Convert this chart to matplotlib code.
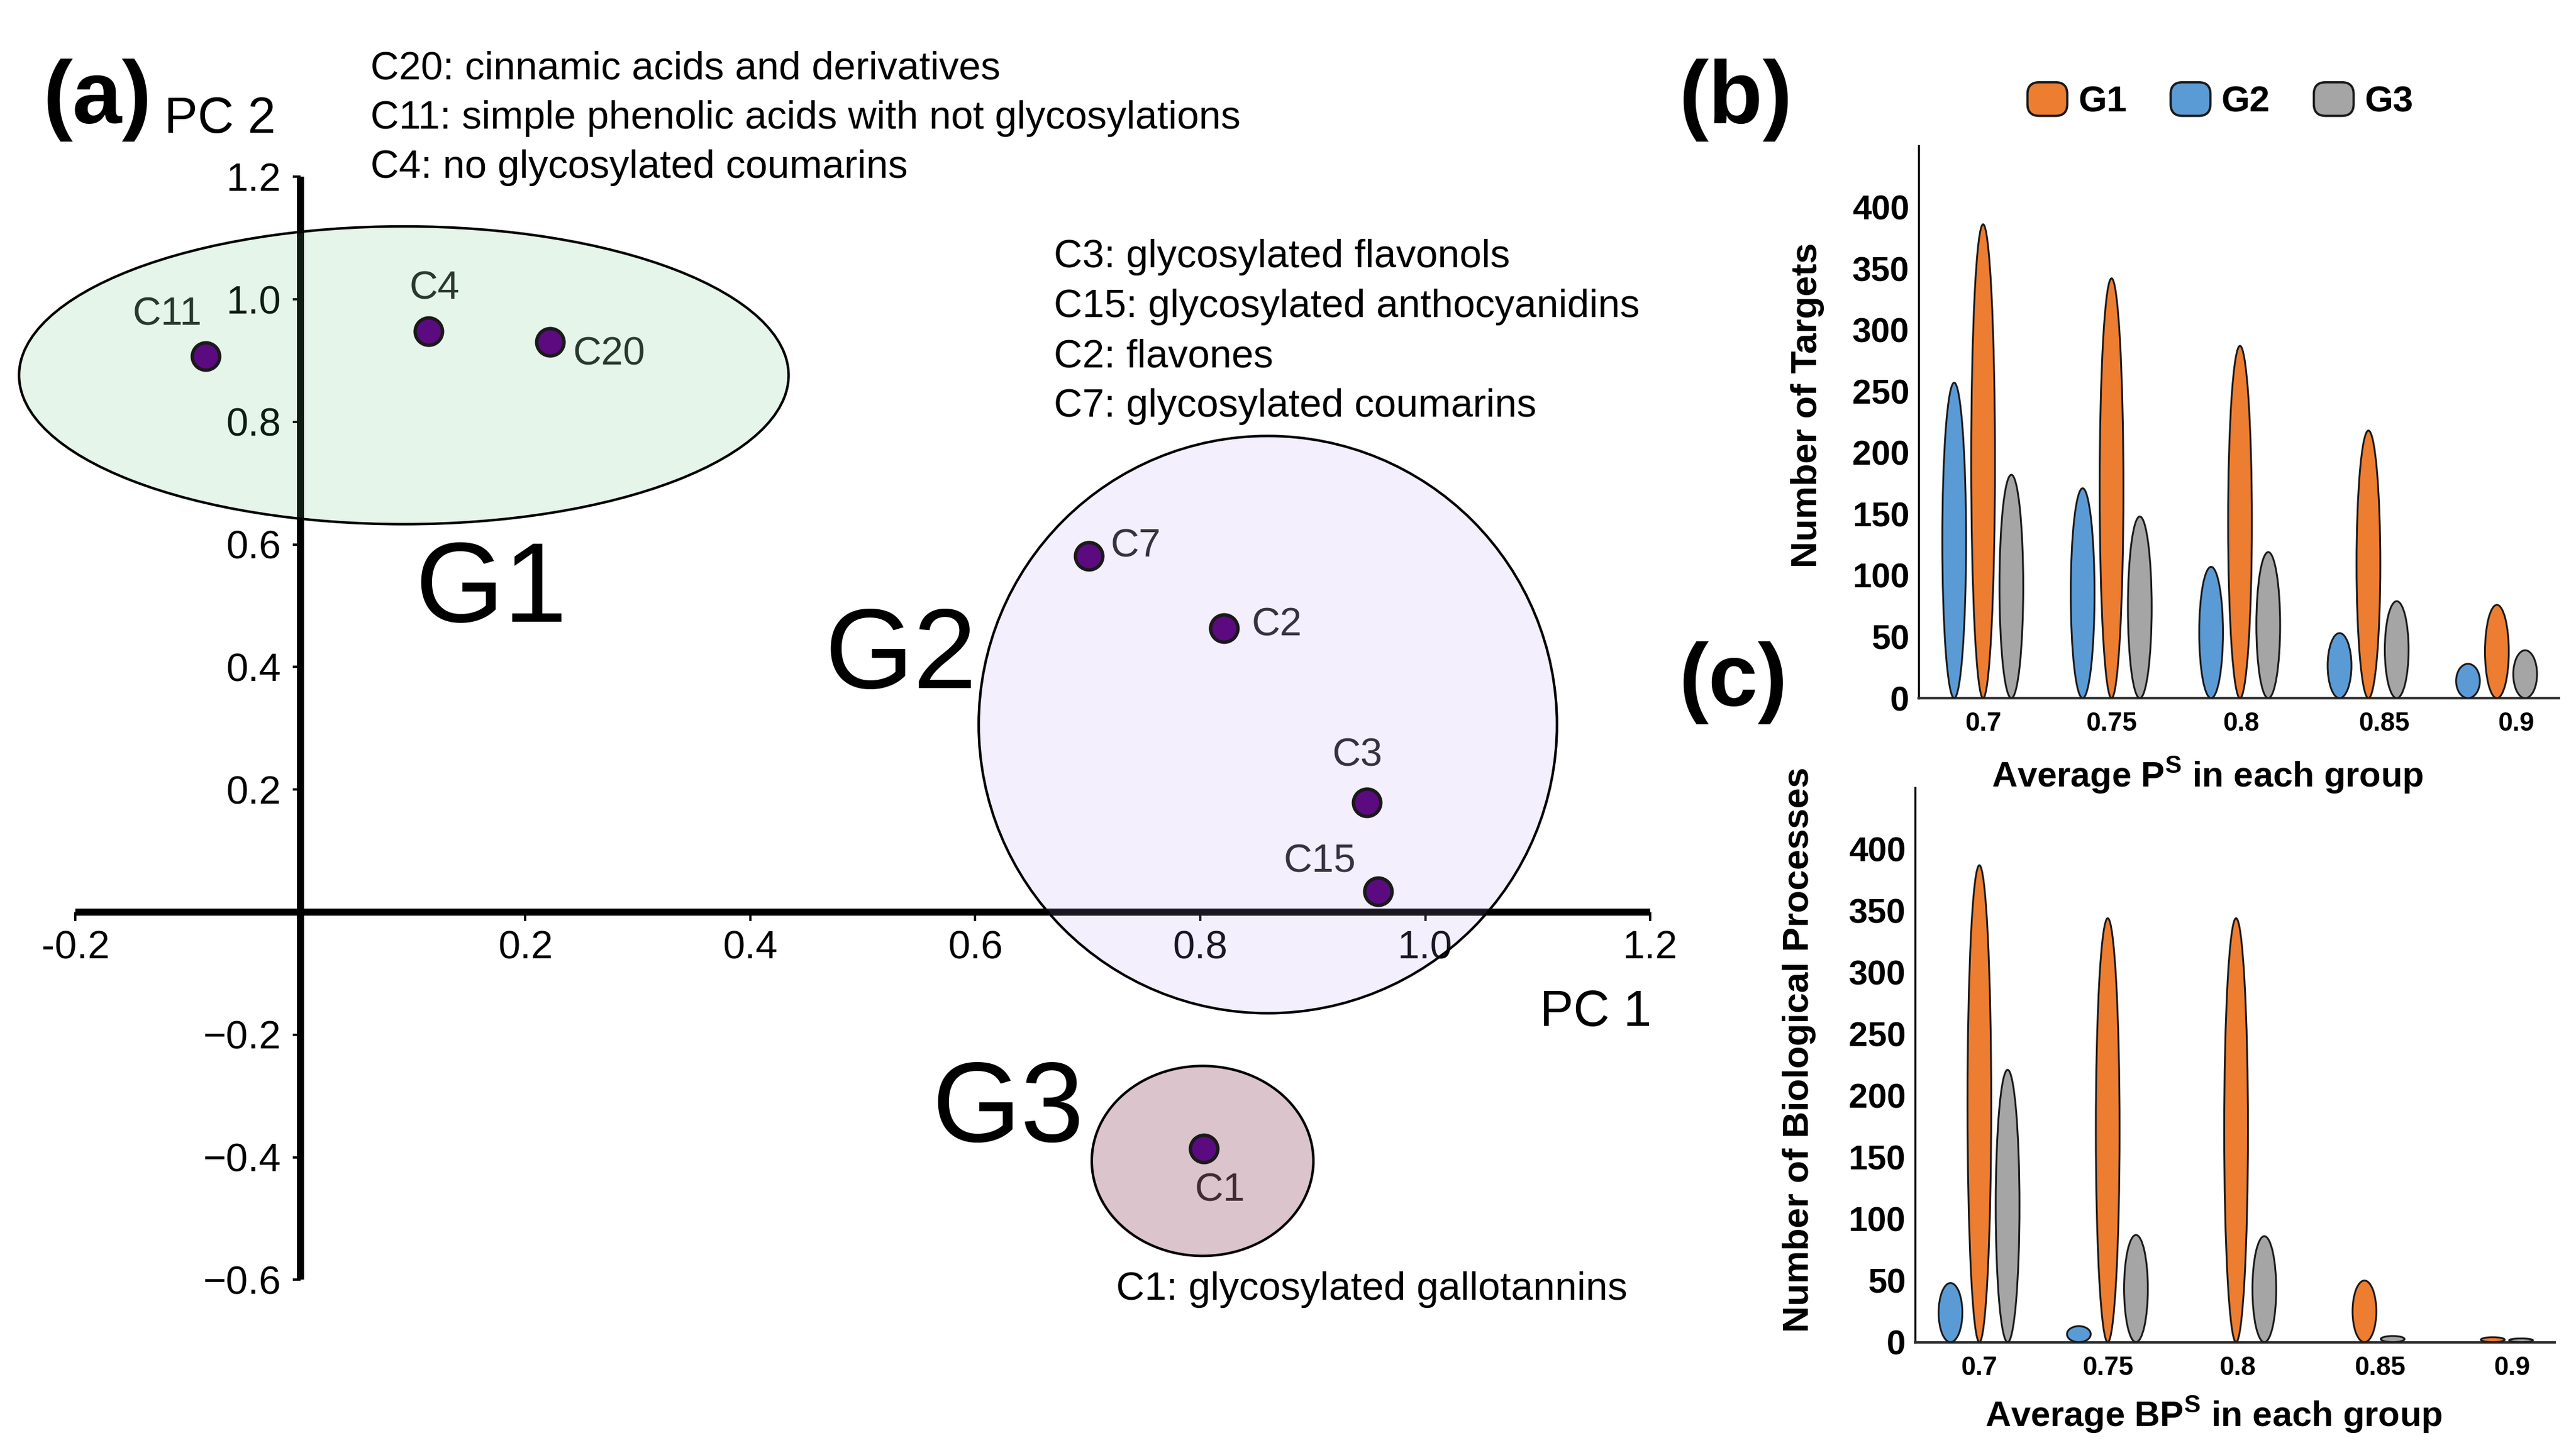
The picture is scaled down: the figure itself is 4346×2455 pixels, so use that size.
import matplotlib
matplotlib.use("Agg")
import matplotlib.pyplot as plt
from matplotlib.patches import Ellipse, FancyBboxPatch, Patch
from matplotlib.legend_handler import HandlerPatch

plt.rcParams['font.family'] = ['Liberation Sans', 'DejaVu Sans']
plt.rcParams['mathtext.fontset'] = 'custom'
plt.rcParams['mathtext.rm'] = 'Liberation Sans'
plt.rcParams['mathtext.bf'] = 'Liberation Sans:bold'

# ---- panel (a): PCA scores ----
compounds = ['C11', 'C4', 'C20', 'C7', 'C2', 'C3', 'C15', 'C1']
pc1 = [-0.084, 0.114, 0.222, 0.701, 0.821, 0.948, 0.958, 0.803]
pc2 = [0.907, 0.948, 0.930, 0.581, 0.463, 0.179, 0.034, -0.386]

groups = ['G1', 'G2', 'G3']
group_cx = [0.092, 0.860, 0.802]
group_cy = [0.876, 0.306, -0.406]
group_w = [0.684, 0.514, 0.197]
group_h = [0.486, 0.942, 0.310]

x_ticks = [-0.2, 0.2, 0.4, 0.6, 0.8, 1.0, 1.2]
x_tick_labels = ['-0.2', '0.2', '0.4', '0.6', '0.8', '1.0', '1.2']
y_ticks = [1.2, 1.0, 0.8, 0.6, 0.4, 0.2, -0.2, -0.4, -0.6]
y_tick_labels = ['1.2', '1.0', '0.8', '0.6', '0.4', '0.2', '\u22120.2', '\u22120.4', '\u22120.6']

desc_g1 = ['C20: cinnamic acids and derivatives',
           'C11: simple phenolic acids with not glycosylations',
           'C4: no glycosylated coumarins']
desc_g2 = ['C3: glycosylated flavonols',
           'C15: glycosylated anthocyanidins',
           'C2: flavones',
           'C7: glycosylated coumarins']
desc_g3 = ['C1: glycosylated gallotannins']

# ---- panels (b) and (c) ----
thresholds = ['0.7', '0.75', '0.8', '0.85', '0.9']
targets_g1 = [386, 342, 287, 218, 76]
targets_g2 = [257, 171, 107, 53, 28]
targets_g3 = [182, 148, 119, 79, 39]
bp_g1 = [387, 344, 344, 50, 4]
bp_g2 = [48, 13, 0, 0, 0]
bp_g3 = [221, 87, 86, 5, 3]
value_ticks = [0, 50, 100, 150, 200, 250, 300, 350, 400]

W, H = 4346, 2455
DPI = 277.0


def fx(px):
    return px / W


def fy(py):
    return 1 - py / H


fig = plt.figure(figsize=(W / DPI, H / DPI), dpi=DPI)

# panel (a) axes: x=0 at 506.7 px, 1898 px per unit; y=0 at 1539 px, 1034 px per unit
ax = fig.add_axes([fx(13.2), fy(2211.1), (2879.2 - 13.2) / W, (2211.1 - 246.5) / H])
ax.set_xlim(-0.26, 1.25)
ax.set_ylim(-0.65, 1.25)
ax.patch.set_visible(False)
ax.set_axisbelow(True)
for s in ['top', 'right']:
    ax.spines[s].set_visible(False)
ax.spines['left'].set_position(('data', 0))
ax.spines['bottom'].set_position(('data', 0))
ax.spines['left'].set_bounds(-0.6, 1.2)
ax.spines['bottom'].set_bounds(-0.2, 1.2)
for s in ['left', 'bottom']:
    ax.spines[s].set_linewidth(3.1)
    ax.spines[s].set_capstyle('butt')
ax.set_xticks(x_ticks, x_tick_labels)
ax.set_yticks(y_ticks, y_tick_labels)
ax.tick_params(axis='x', direction='out', length=3.9, width=1.0, pad=4, labelsize=17.3)
ax.tick_params(axis='y', direction='out', length=3.4, width=1.0, pad=5, labelsize=17.3)

group_fill = [(0.345, 0.737, 0.424, 0.15),
              (0.686, 0.580, 0.922, 0.15),
              (0.541, 0.243, 0.333, 0.30)]
for cx, cy, w, h, fc in zip(group_cx, group_cy, group_w, group_h, group_fill):
    ax.add_patch(Ellipse((cx, cy), w, h, facecolor=fc, edgecolor='black',
                         linewidth=1.1, zorder=3, clip_on=False))

ax.plot(pc1, pc2, 'o', ms=12, mfc='#5c0a80', mec='#1a1a1a', mew=1.5,
        zorder=4, clip_on=False)

# label offsets in points (dx, dy, ha)
label_offsets = {'C11': (-17, 18, 'center'), 'C4': (2.5, 18.5, 'center'),
                 'C20': (10, -5.5, 'left'), 'C7': (9.6, 4.2, 'left'),
                 'C2': (12.2, 1.3, 'left'), 'C3': (-4.2, 20.3, 'center'),
                 'C15': (-9.6, 12.7, 'right'), 'C1': (7, -18.5, 'center')}
for name, x, y in zip(compounds, pc1, pc2):
    dx, dy, ha = label_offsets[name]
    ax.annotate(name, (x, y), xytext=(dx, dy), textcoords='offset points',
                ha=ha, va='center', fontsize=17.3, color='#222222', zorder=2)

# axis titles
fig.text(fx(277), fy(202), 'PC 2', fontsize=22, ha='left', va='center')
fig.text(fx(2786), fy(1709), 'PC 1', fontsize=22, ha='right', va='center')

# group names
for name, lx, by in zip(groups, [700, 1391, 1572], [1049, 1161, 1926]):
    fig.text(fx(lx), fy(by), name, fontsize=50, ha='left', va='baseline')

# compound class descriptions
for i, line in enumerate(desc_g1):
    fig.text(fx(625), fy(134 + 83 * i), line, fontsize=17.3, ha='left', va='baseline')
for i, line in enumerate(desc_g2):
    fig.text(fx(1778), fy(451 + 84 * i), line, fontsize=17.3, ha='left', va='baseline')
fig.text(fx(1883), fy(2193), desc_g3[0], fontsize=17.3, ha='left', va='baseline')

# panel letters
fig.text(fx(73), fy(169), '(a)', fontsize=39, fontweight='bold', ha='left', va='center')
fig.text(fx(2833), fy(169), '(b)', fontsize=39, fontweight='bold', ha='left', va='center')
fig.text(fx(2833), fy(1152), '(c)', fontsize=39, fontweight='bold', ha='left', va='center')

# ---- ellipse "bar" panels ----
colors = ['#ed7d31', '#5b9bd5', '#a5a5a5']
offsets = [0.0, -0.225, 0.22]
tick_shift = [0.0, 0.0, 0.01, 0.12, 0.15]


def ellipse_bars(rect, series, ylabel, ylabel_xy, xlabel, xlabel_xy):
    axb = fig.add_axes(rect)
    axb.set_xlim(-0.503, 4.482)
    axb.set_ylim(0, 450)
    for vals, col, off in zip(series, colors, offsets):
        for i, v in enumerate(vals):
            if v <= 0:
                continue
            axb.add_patch(Ellipse((i + off, v / 2), 0.185, v, facecolor=col,
                                  edgecolor='#1a1a1a', linewidth=0.8, zorder=3))
    for s in ['top', 'right']:
        axb.spines[s].set_visible(False)
    axb.spines['left'].set_linewidth(0.9)
    axb.spines['bottom'].set_linewidth(1.1)
    axb.spines['bottom'].set_color('#333333')
    axb.set_yticks(value_ticks)
    axb.set_xticks([i + d for i, d in enumerate(tick_shift)], thresholds)
    axb.tick_params(axis='y', length=0, pad=4, labelsize=15)
    axb.tick_params(axis='x', length=0, pad=6, labelsize=11.5)
    for t in axb.get_xticklabels() + axb.get_yticklabels():
        t.set_fontweight('bold')
    fig.text(fx(ylabel_xy[0]), fy(ylabel_xy[1]), ylabel, rotation=90, fontsize=16.2,
             fontweight='bold', ha='center', va='center')
    fig.text(fx(xlabel_xy[0]), fy(xlabel_xy[1]), xlabel, fontsize=15.5,
             fontweight='bold', ha='center', va='baseline')
    return axb


ellipse_bars([fx(3236.7), fy(1178), (4317 - 3236.7) / W, (1178 - 246) / H],
             [targets_g1, targets_g2, targets_g3], 'Number of Targets', (3050, 684),
             r'Average P$^{\mathbf{S}}$ in each group', (3724, 1328))
ellipse_bars([fx(3230.5), fy(2264.6), (4310 - 3230.5) / W, (2264.6 - 1329) / H],
             [bp_g1, bp_g2, bp_g3], 'Number of Biological Processes', (3036, 1771),
             r'Average BP$^{\mathbf{S}}$ in each group', (3735, 2407))


# legend with rounded handles
class RoundHandler(HandlerPatch):
    def create_artists(self, legend, orig_handle, xdescent, ydescent,
                       width, height, fontsize, trans):
        r = min(width, height) * 0.35
        p = FancyBboxPatch((-xdescent + r, -ydescent + r), width - 2 * r, height - 2 * r,
                           boxstyle=f'round,pad={r},rounding_size={r}',
                           facecolor=orig_handle.get_facecolor(),
                           edgecolor='#1a1a1a', linewidth=1.0, transform=trans)
        return [p]


handles = [Patch(facecolor=c, label=g) for c, g in zip(colors, groups)]
leg = fig.legend(handles=handles, loc='center', bbox_to_anchor=(fx(3746), fy(170)),
                 ncol=3, frameon=False, fontsize=16, handlelength=1.09,
                 handleheight=1.04, handletextpad=0.3, columnspacing=1.2,
                 handler_map={Patch: RoundHandler()}, borderaxespad=0)
for t in leg.get_texts():
    t.set_fontweight('bold')

fig.savefig('out.png', dpi=DPI)
